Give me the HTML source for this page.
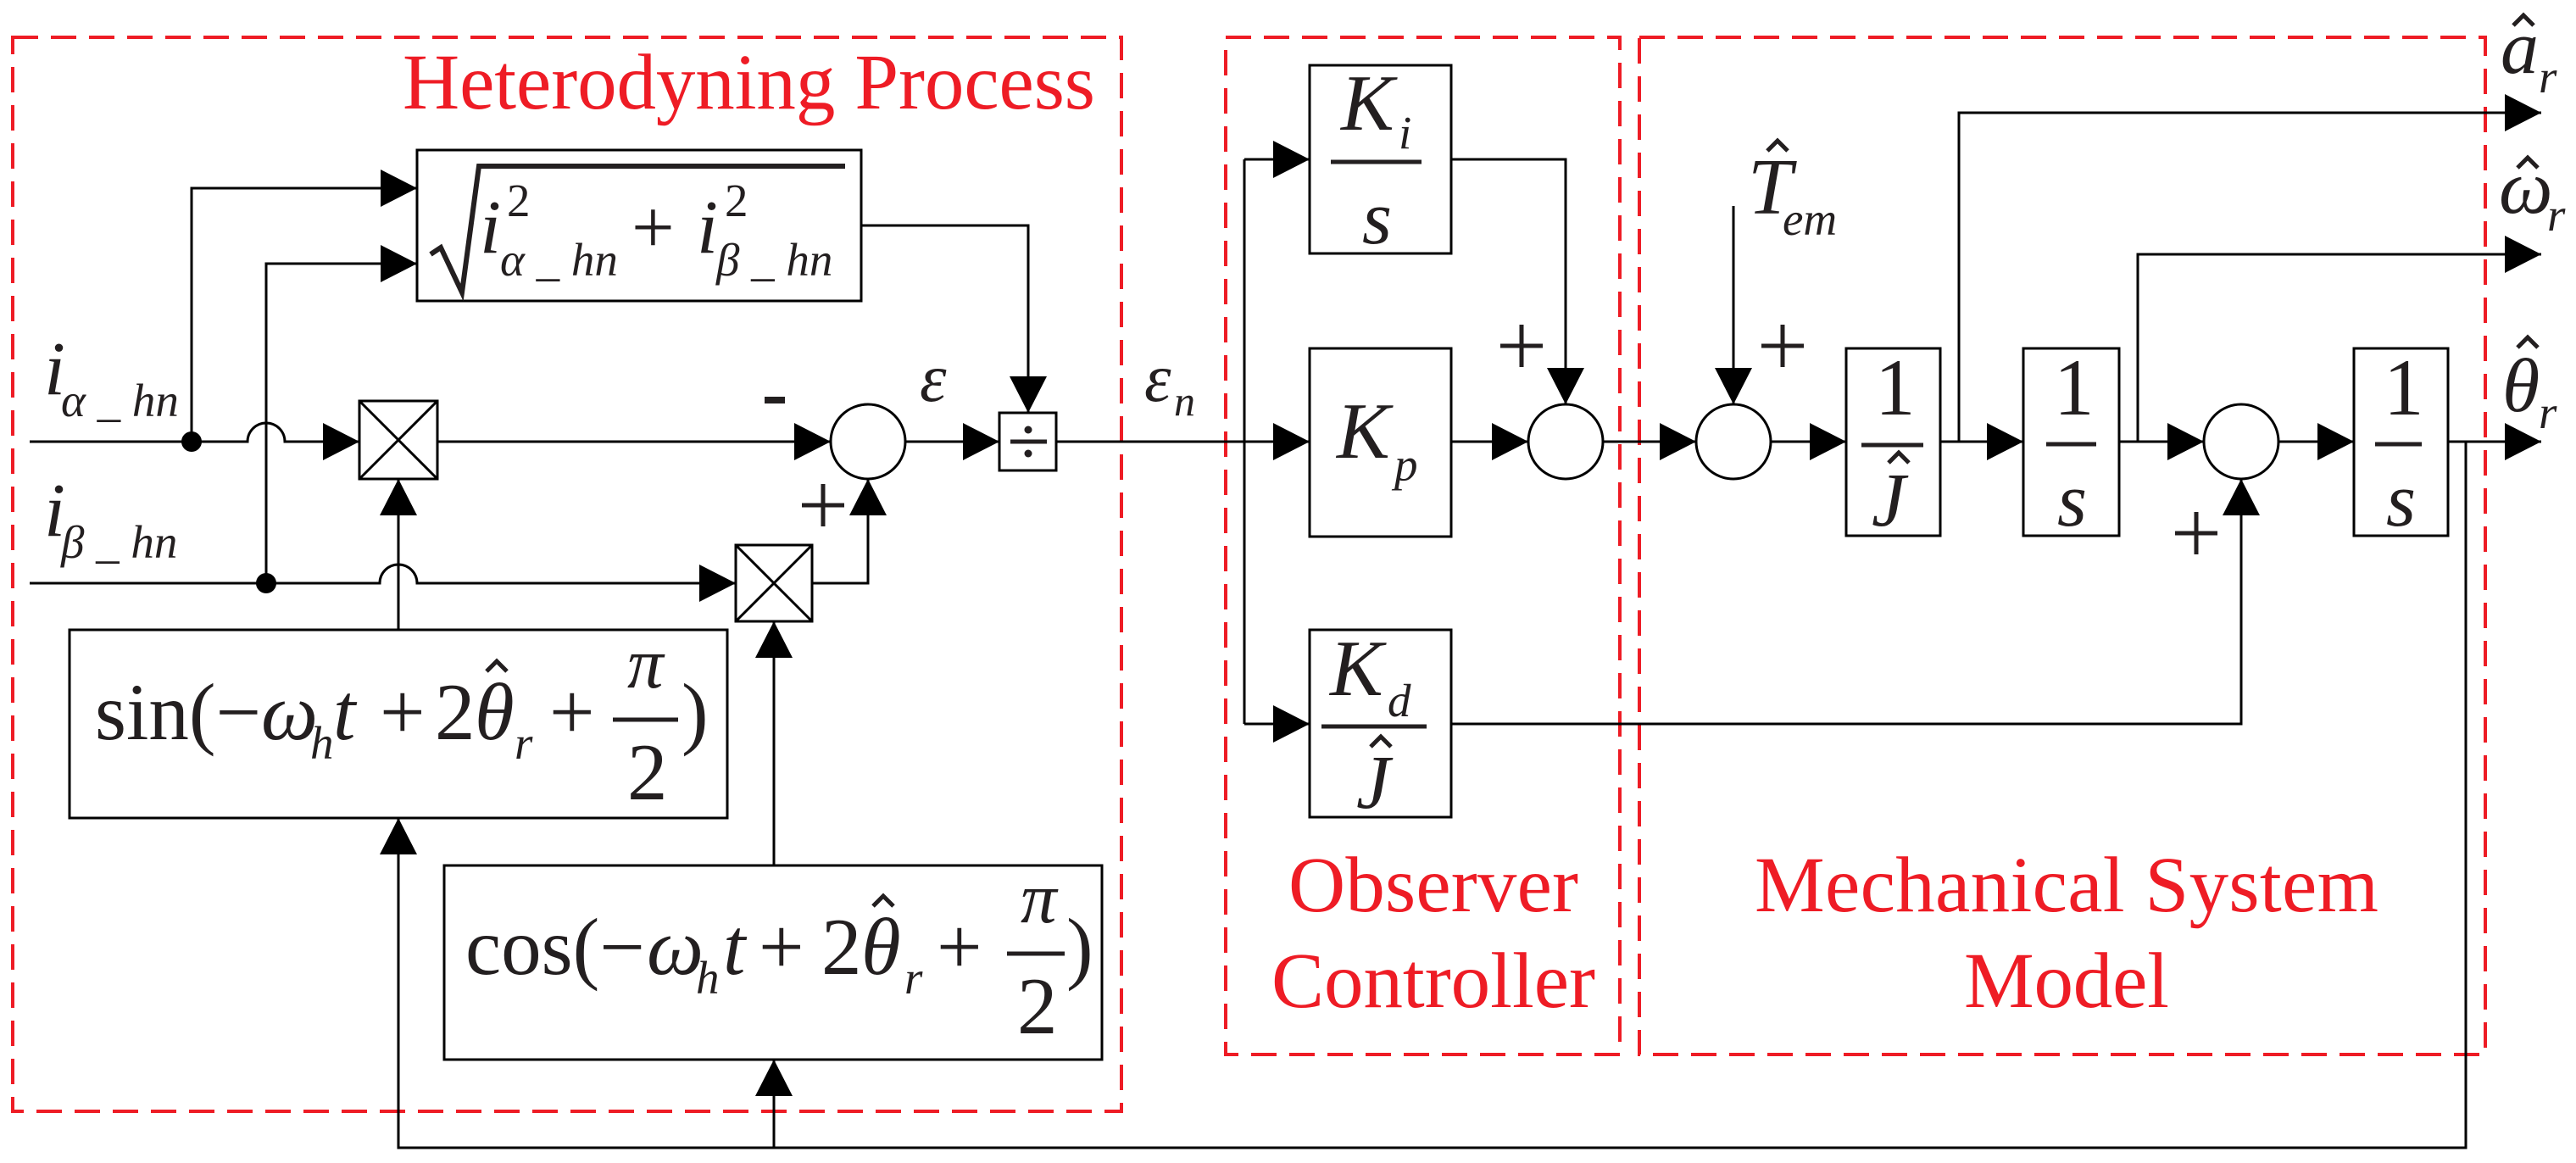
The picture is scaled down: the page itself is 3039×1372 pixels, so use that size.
<!DOCTYPE html>
<html><head><meta charset="utf-8"><style>
html,body{margin:0;padding:0;background:#fff}
svg{display:block}
svg text{font-family:"Liberation Serif","Times New Roman",Times,"DejaVu Serif",serif;fill:#231f20}
.i{font-style:italic}
.red{fill:#ee1c25 !important;font-size:93px}
</style></head><body>
<svg width="3039" height="1372" viewBox="0 0 3039 1372" xmlns="http://www.w3.org/2000/svg" font-family="Liberation Serif, Times New Roman, serif">
<g fill="none" stroke="#ee1c25" stroke-width="4" stroke-dasharray="30,15">
<rect x="15" y="44" width="1308" height="1267"/>
<rect x="1446" y="44" width="465" height="1200"/>
<rect x="1934" y="44" width="998" height="1200"/>
</g>
<text class="red" x="475" y="128" textLength="817" font-family="Liberation Serif, serif">Heterodyning Process</text>
<text class="red" x="1520" y="1075" textLength="342" font-family="Liberation Serif, serif">Observer</text>
<text class="red" x="1500" y="1188" textLength="382" font-family="Liberation Serif, serif">Controller</text>
<text class="red" x="2070" y="1075" textLength="736" font-family="Liberation Serif, serif">Mechanical System</text>
<text class="red" x="2317" y="1188" textLength="242" font-family="Liberation Serif, serif">Model</text>

<g fill="none" stroke="#000" stroke-width="3">
<rect x="492" y="177" width="524" height="178"/>
<rect x="424" y="473" width="92" height="92"/><path d="M424,473L516,565M516,473L424,565"/>
<rect x="868" y="643" width="90" height="90"/><path d="M868,643L958,733M958,643L868,733"/>
<rect x="1179" y="487" width="67" height="68"/>
<rect x="82" y="743" width="776" height="222"/>
<rect x="524" y="1021" width="776" height="229"/>
<rect x="1545" y="77" width="167" height="222"/>
<rect x="1545" y="411" width="167" height="222"/>
<rect x="1545" y="743" width="167" height="221"/>
<rect x="2178" y="411" width="111" height="221"/>
<rect x="2387" y="411" width="113" height="221"/>
<rect x="2777" y="411" width="111" height="221"/>
<circle cx="1024" cy="521" r="44"/><circle cx="1847" cy="521" r="44"/>
<circle cx="2045" cy="521" r="44"/><circle cx="2644" cy="521" r="44"/>
<path d="M35,521H292A22,22 0 0 1 336,521H424M226,521V222H492"/>
<path d="M35,688H448A22,22 0 0 1 492,688H868M314,688V311H492"/>
<path d="M516,521H980M958,688H1024V565M470,743V565M913,1021V733M1068,521H1179M1016,266H1213V487M1246,521H1545"/>
<path d="M1468,188V854M1468,188H1545M1468,854H1545M1712,188H1847V477M1712,521H1803M1891,521H2001M2045,243V477M2089,521H2178"/>
<path d="M2289,521H2387M2311,521V133H2998M2500,521H2600M2522,521V300H2998M2688,521H2777M2888,521H2998"/>
<path d="M2909,521V1354H470V965M913,1354V1250M1712,854H2644V565"/>
</g>
<circle cx="226" cy="521" r="12" fill="#000"/><circle cx="314" cy="688" r="12" fill="#000"/>
<g stroke="#231f20" stroke-width="5" fill="none">
<path d="M1570,191H1677M1559,857H1683M2196,525H2269M2414,524H2473M2802,524H2857M1192,521H1235"/>
<path d="M902,472H926" stroke-width="8"/>
<path d="M946,596H996M971,571V621M1770,408H1820M1795,383V433M2078,408H2128M2103,383V433M2566,629H2616M2591,604V654"/>
</g>
<circle cx="1213" cy="507" r="4.5" fill="#231f20"/><circle cx="1213" cy="535" r="4.5" fill="#231f20"/>
<g fill="#000">
<path d="M449,200L492,222L449,244ZM449,289L492,311L449,333ZM381,499L424,521L381,543ZM825,666L868,688L825,710ZM937,499L980,521L937,543ZM1136,499L1179,521L1136,543ZM1502,166L1545,188L1502,210ZM1502,499L1545,521L1502,543ZM1502,832L1545,854L1502,876ZM1760,499L1803,521L1760,543ZM1958,499L2001,521L1958,543ZM2135,499L2178,521L2135,543ZM2344,499L2387,521L2344,543ZM2557,499L2600,521L2557,543ZM2734,499L2777,521L2734,543ZM2955,111L2998,133L2955,155ZM2955,278L2998,300L2955,322ZM2955,499L2998,521L2955,543Z"/>
<path d="M1191,444L1213,487L1235,444ZM1825,434L1847,477L1869,434ZM2023,434L2045,477L2067,434Z"/>
<path d="M448,608L470,565L492,608ZM1002,608L1024,565L1046,608ZM891,776L913,733L935,776ZM2622,608L2644,565L2666,608ZM448,1008L470,965L492,1008ZM891,1293L913,1250L935,1293Z"/>
</g>

<!-- hats -->
<g fill="none" stroke="#231f20" stroke-width="5">
<path d="M574,792L586,780L598,792"/>
<path d="M1030,1069L1042,1057L1054,1069"/>
<path d="M2085,178L2097,166L2109,178"/>
<path d="M2228,546L2240,534L2252,546"/>
<path d="M1617,881L1629,869L1641,881"/>
<path d="M2965,30L2977,18L2989,30"/>
<path d="M2970,198L2982,186L2994,198"/>
<path d="M2970,410L2982,398L2994,410"/>
</g>

<!-- sqrt -->
<path d="M508,300L520,292L545,345L565,196H997" fill="none" stroke="#231f20" stroke-width="6"/>
<text class="i" x="566" y="298" font-size="90">i</text>
<text x="598" y="255" font-size="55">2</text>
<text class="i" x="590" y="325" font-size="55">α _ hn</text>
<text x="745" y="298" font-size="90">+</text>
<text class="i" x="822" y="298" font-size="90">i</text>
<text x="855" y="255" font-size="55">2</text>
<text class="i" x="845" y="325" font-size="55">β _ hn</text>

<text class="i" x="52" y="465" font-size="90">i</text>
<text class="i" x="72" y="491" font-size="55">α _ hn</text>
<text class="i" x="52" y="632" font-size="90">i</text>
<text class="i" x="72" y="658" font-size="55">β _ hn</text>

<text class="i" x="1085" y="473" font-size="80">ε</text>
<text class="i" x="1350" y="473" font-size="80">ε</text>
<text class="i" x="1385" y="490" font-size="50">n</text>

<!-- sin -->
<g font-size="95">
<text x="112" y="872">sin(−</text>
<text class="i" x="308" y="872">ω</text>
<text class="i" x="366" y="895" font-size="55">h</text>
<text class="i" x="393" y="872">t</text>
<text x="448" y="872">+</text>
<text x="513" y="872">2</text>
<text class="i" x="560" y="872">θ</text>
<text class="i" x="607" y="895" font-size="55">r</text>
<text x="648" y="872">+</text>
<text class="i" x="740" y="811" font-size="85">π</text>
<text x="740" y="943">2</text>
<text x="804" y="872">)</text>
</g>
<path d="M723,849H800" stroke="#231f20" stroke-width="5"/>
<!-- cos -->
<g font-size="95">
<text x="549" y="1149">cos(−</text>
<text class="i" x="763" y="1149">ω</text>
<text class="i" x="821" y="1172" font-size="55">h</text>
<text class="i" x="853" y="1149">t</text>
<text x="895" y="1149">+</text>
<text x="969" y="1149">2</text>
<text class="i" x="1016" y="1149">θ</text>
<text class="i" x="1067" y="1172" font-size="55">r</text>
<text x="1105" y="1149">+</text>
<text class="i" x="1204" y="1088" font-size="85">π</text>
<text x="1200" y="1219">2</text>
<text x="1258" y="1149">)</text>
</g>
<path d="M1188,1125H1256" stroke="#231f20" stroke-width="5"/>

<!-- observer -->
<text class="i" x="1582" y="153" font-size="94">K</text>
<text class="i" x="1650" y="175" font-size="55">i</text>
<text class="i" x="1607" y="287" font-size="90">s</text>
<text class="i" x="1577" y="540" font-size="94">K</text>
<text class="i" x="1645" y="567" font-size="55">p</text>
<text class="i" x="1569" y="820" font-size="94">K</text>
<text class="i" x="1637" y="845" font-size="55">d</text>
<text class="i" x="1600" y="953" font-size="90">J</text>

<!-- mech -->
<text class="i" x="2062" y="252" font-size="94">T</text>
<text class="i" x="2103" y="277" font-size="55">em</text>
<text x="2212" y="489" font-size="95">1</text>
<text class="i" x="2208" y="620" font-size="90">J</text>
<text x="2423" y="489" font-size="95">1</text>
<text class="i" x="2427" y="620" font-size="90">s</text>
<text x="2812" y="489" font-size="95">1</text>
<text class="i" x="2815" y="620" font-size="90">s</text>

<text class="i" x="2950" y="86" font-size="90">a</text>
<text class="i" x="2995" y="109" font-size="55">r</text>
<text class="i" x="2948" y="251" font-size="90">ω</text>
<text class="i" x="3005" y="272" font-size="55">r</text>
<text class="i" x="2952" y="485" font-size="90">θ</text>
<text class="i" x="2995" y="505" font-size="55">r</text>
</svg>
</body></html>
